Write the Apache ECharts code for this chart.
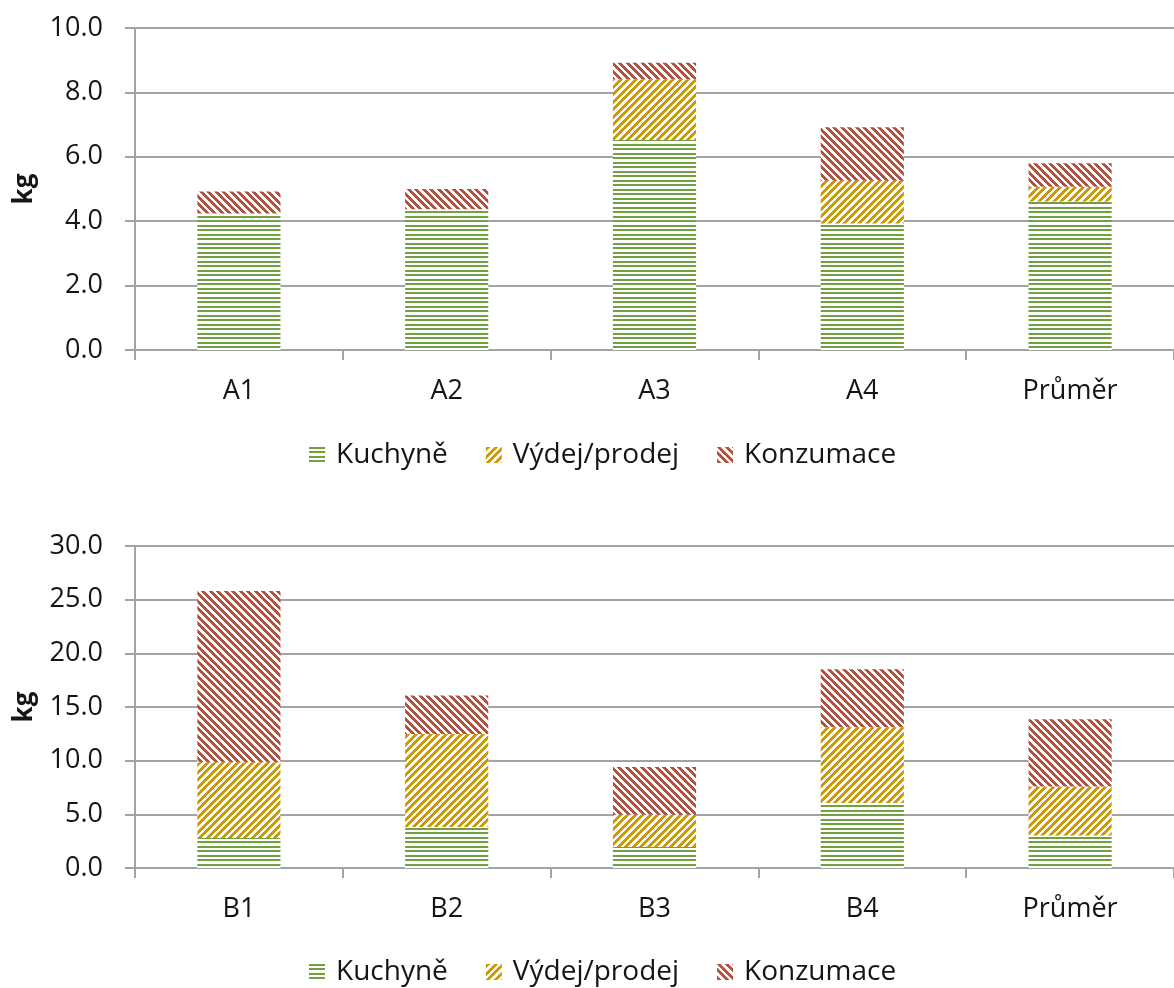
<!DOCTYPE html>
<html>
<head>
<meta charset="utf-8">
<title>Potravinový odpad</title>
<script src="https://cdn.jsdelivr.net/npm/echarts@6/dist/echarts.min.js"></script>
<style>
  html, body { margin: 0; padding: 0; background: #ffffff; }
  #chart { width: 1174px; height: 988px; }
</style>
</head>
<body>
<div id="chart"></div>
<script>
// Series names shared by both panels
const seriesNames = ['Kuchyně', 'Výdej/prodej', 'Konzumace'];

// Upper panel (provozovny A), kg
const categoriesA = ['A1', 'A2', 'A3', 'A4', 'Průměr'];
const kuchyneA = [4.24, 4.37, 6.52, 3.93, 4.61];
const vydejA = [0, 0, 1.89, 1.33, 0.46];
const konzumaceA = [0.68, 0.63, 0.51, 1.66, 0.73];
const yMaxA = 10;
const yStepA = 2;

// Lower panel (provozovny B), kg
const categoriesB = ['B1', 'B2', 'B3', 'B4', 'Průměr'];
const kuchyneB = [2.79, 3.81, 1.95, 6.05, 3.03];
const vydejB = [7.07, 8.68, 3.01, 7.07, 4.56];
const konzumaceB = [15.94, 3.57, 4.44, 5.39, 6.27];
const yMaxB = 30;
const yStepB = 5;

const FONT = '"Open Sans", "Liberation Sans", sans-serif';
const TEXT = '#151515';
const GRIDLINE = '#a3a3a3';

// Hatch fills built pixel by pixel on small tiles
function hatchTile(size, rgb, test) {
  const c = document.createElement('canvas');
  c.width = size; c.height = size;
  const ctx = c.getContext('2d');
  const img = ctx.createImageData(size, size);
  for (let y = 0; y < size; y++) {
    for (let x = 0; x < size; x++) {
      const i = (y * size + x) * 4;
      const on = test(x, y);
      img.data[i] = on ? rgb[0] : 255;
      img.data[i + 1] = on ? rgb[1] : 255;
      img.data[i + 2] = on ? rgb[2] : 255;
      img.data[i + 3] = 255;
    }
  }
  ctx.putImageData(img, 0, 0);
  return { image: c, repeat: 'repeat' };
}

// horizontal lines, ~4.5 px period
const greenFill = hatchTile(9, [112, 160, 64], (x, y) => (y % 9) === 0 || (y % 9) === 1 || (y % 9) === 4 || (y % 9) === 5);
// wide upward diagonal
const goldFill = hatchTile(15, [204, 154, 6], (x, y) => ((x + y) % 7.5) < 3.6);
// wide downward diagonal
const redFill = hatchTile(15, [178, 82, 64], (x, y) => (((x - y) % 7.5) + 7.5) % 7.5 < 3.6);

const fills = [greenFill, goldFill, redFill];

function makeXAxis(gridIndex, cats) {
  return {
    type: 'category',
    gridIndex: gridIndex,
    data: cats,
    axisLine: { lineStyle: { color: GRIDLINE, width: 2 } },
    axisTick: { show: true, length: 10, lineStyle: { color: GRIDLINE, width: 2 } },
    axisLabel: { color: TEXT, fontSize: 27, fontFamily: FONT, margin: 28 }
  };
}

function makeYAxis(gridIndex, max, step) {
  return {
    type: 'value',
    gridIndex: gridIndex,
    min: 0,
    max: max,
    interval: step,
    name: 'kg',
    nameLocation: 'middle',
    nameGap: 97,
    nameTextStyle: { color: TEXT, fontSize: 26, fontWeight: 'bold', fontFamily: FONT },
    axisLine: { show: true, lineStyle: { color: GRIDLINE, width: 2 } },
    axisTick: { show: true, length: 10, lineStyle: { color: GRIDLINE, width: 2 } },
    splitLine: { lineStyle: { color: GRIDLINE, width: 2 } },
    axisLabel: {
      color: TEXT, fontSize: 27, fontFamily: FONT, margin: 32,
      formatter: (v) => v.toFixed(1)
    }
  };
}

function makeLegend(top) {
  return {
    top: top,
    left: 304,
    icon: 'rect',
    itemWidth: 16,
    itemHeight: 16,
    itemGap: 38,
    data: seriesNames,
    textStyle: { color: TEXT, fontSize: 28, fontFamily: FONT, padding: [0, 0, 0, 6] }
  };
}

function makeSeries(axisIndex, stackId, valuesList) {
  return valuesList.map((vals, k) => ({
    name: seriesNames[k],
    type: 'bar',
    stack: stackId,
    xAxisIndex: axisIndex,
    yAxisIndex: axisIndex,
    barWidth: '40%',
    data: vals,
    itemStyle: { color: fills[k] },
    emphasis: { disabled: true }
  }));
}

const chart = echarts.init(document.getElementById('chart'), null, { renderer: 'canvas' });
chart.setOption({
  animation: false,
  backgroundColor: '#ffffff',
  legend: [makeLegend(436), makeLegend(953)],
  grid: [
    { left: 135, right: 0, top: 28, height: 322 },
    { left: 135, right: 0, top: 546, height: 322 }
  ],
  xAxis: [makeXAxis(0, categoriesA), makeXAxis(1, categoriesB)],
  yAxis: [makeYAxis(0, yMaxA, yStepA), makeYAxis(1, yMaxB, yStepB)],
  series: [
    ...makeSeries(0, 'A', [kuchyneA, vydejA, konzumaceA]),
    ...makeSeries(1, 'B', [kuchyneB, vydejB, konzumaceB])
  ]
});
</script>
</body>
</html>
